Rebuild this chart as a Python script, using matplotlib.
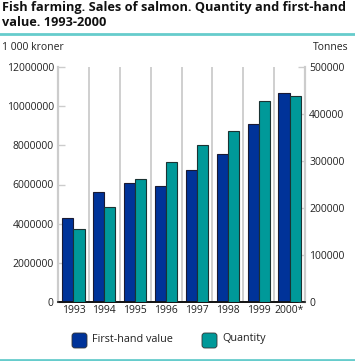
import matplotlib
matplotlib.use("Agg")
import matplotlib.pyplot as plt
import numpy as np
from matplotlib.patches import FancyBboxPatch
from matplotlib.lines import Line2D

years = ["1993", "1994", "1995", "1996", "1997", "1998", "1999", "2000*"]
first_hand_value = [4290000, 5610000, 6070000, 5900000, 6750000, 7580000, 9100000, 10660000]
quantity = [155000, 202000, 262000, 297000, 334000, 363000, 428000, 439000]
left_ticks = [0, 2000000, 4000000, 6000000, 8000000, 10000000, 12000000]
right_ticks = [0, 100000, 200000, 300000, 400000, 500000]

plt.rcParams['font.family'] = ['Open Sans', 'DejaVu Sans']
W, H = 355, 361
fig = plt.figure(figsize=(W/100, H/100), dpi=100)

def fx(px): return px / W
def fy(py): return 1 - py / H

ax = fig.add_axes([fx(58), fy(302), fx(305) - fx(58), fy(67) - fy(302)])
ax2 = ax.twinx()

x = np.arange(len(years))
bw = 0.36
blue = "#003399"
teal = "#009999"
ax.bar(x - bw/2, first_hand_value, width=bw, color=blue, edgecolor="#1a1a33", linewidth=0.8, zorder=3)
ax2.bar(x + bw/2, quantity, width=bw, color=teal, edgecolor="#1a3333", linewidth=0.8, zorder=3)

ax.set_xlim(-0.5, len(years) - 0.5)
ax.set_ylim(0, 12000000)
ax2.set_ylim(0, 500000)
ax.set_yticks(left_ticks)
ax.set_yticklabels([str(v) for v in left_ticks])
ax2.set_yticks(right_ticks)
ax2.set_yticklabels([str(v) for v in right_ticks])
ax.set_xticks(x)
ax.set_xticklabels(years)
ax.set_xticks(np.arange(len(years) - 1) + 0.5, minor=True)
ax.grid(True, axis='x', which='minor', color="#cccccc", linewidth=1.3, zorder=0)
ax.tick_params(axis='x', which='both', length=0, labelsize=7.5, pad=2, colors="#222222")
ax.tick_params(axis='y', direction='in', length=5, color="#cccccc", width=1, labelsize=7.5, pad=3, labelcolor="#222222")
ax2.tick_params(axis='y', direction='in', length=5, color="#cccccc", width=1, labelsize=7.5, pad=3, labelcolor="#222222")

for a in (ax, ax2):
    a.spines['top'].set_visible(False)
    a.spines['left'].set_color("#cccccc")
    a.spines['right'].set_color("#cccccc")
    a.spines['left'].set_linewidth(1.5)
    a.spines['right'].set_linewidth(1.5)
    a.spines['bottom'].set_color("#111111")
    a.spines['bottom'].set_linewidth(1.2)
ax2.set_zorder(ax.get_zorder() + 1)
ax2.patch.set_visible(False)

fig.text(fx(2), fy(1.5), "Fish farming. Sales of salmon. Quantity and first-hand\nvalue. 1993-2000",
         ha='left', va='top', fontsize=9.2, fontweight='bold', linespacing=1.15, color="#111111")
fig.add_artist(Line2D([0, 1], [fy(33.5), fy(33.5)], color="#66cccc", linewidth=2))
fig.add_artist(Line2D([0, 1], [fy(359.5), fy(359.5)], color="#66cccc", linewidth=2))
fig.text(fx(2), fy(47), "1 000 kroner", ha='left', va='center', fontsize=7.5, color="#222222")
fig.text(fx(349), fy(47), "Tonnes", ha='right', va='center', fontsize=7.5, color="#222222")

for px, col, lab in [(72, blue, "First-hand value"), (202, teal, "Quantity")]:
    fig.add_artist(FancyBboxPatch((fx(px), fy(348)), fx(15), fy(333) - fy(348),
                                  boxstyle="round,pad=0,rounding_size=0.008",
                                  transform=fig.transFigure, facecolor=col, edgecolor="#333333", linewidth=0.6))
    fig.text(fx(px + 20), fy(339), lab, ha='left', va='center', fontsize=7.8, color="#222222")

fig.savefig("out.png", dpi=100)
